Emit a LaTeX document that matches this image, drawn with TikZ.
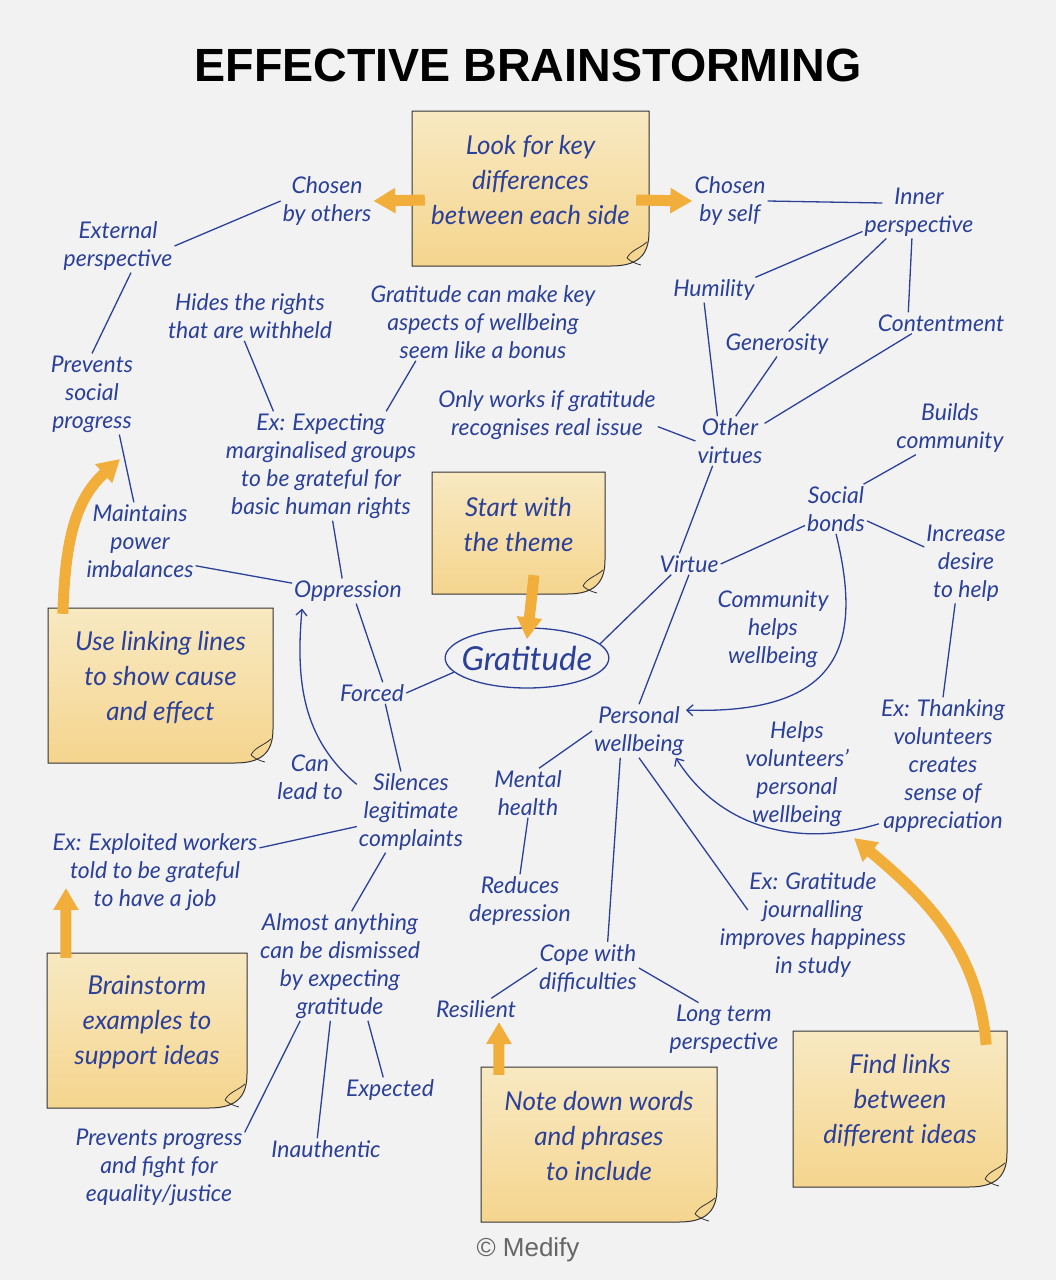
\documentclass[tikz,border=0pt]{standalone}
\usepackage{fontspec}
\setmainfont{Lato}
\newfontfamily\titlefont{Liberation Sans}
\usetikzlibrary{arrows.meta,shapes.geometric}

\definecolor{paper}{HTML}{F2F2F2}
\definecolor{ink}{HTML}{2B4099}
\definecolor{marker}{HTML}{F2AE3A}
\definecolor{notetop}{HTML}{F8E9C2}
\definecolor{notebottom}{HTML}{F5D58E}
\definecolor{noteline}{HTML}{333333}
\definecolor{credit}{HTML}{666666}

\tikzset{
  idea/.style={text=ink, align=center, inner sep=2pt, font=\itshape\fontsize{23}{28}\selectfont},
  link/.style={draw=ink, line width=1.3pt},
  leadsto/.style={link, -{Straight Barb[length=6pt,width=11pt]}},
  hint/.style={draw=marker, line width=11pt, -{Triangle[width=24pt,length=22pt]}},
  notebox/.style={inner sep=0pt},
  notetext/.style={text=ink, align=center, font=\itshape\fontsize{26}{35}\selectfont},
}

% sticky note: name, left, top, right, bottom, text
\newcommand{\stickynote}[6]{%
  \shade[top color=notetop, bottom color=notebottom, draw=noteline, line width=1pt]
    (#2,#3) -- (#4,#3) -- (#4,#5-34) .. controls (#4,#5-10) and (#4-12,#5) .. (#4-38,#5) -- (#2,#5) -- cycle;
  \draw[noteline, line width=0.8pt]
    (#4-22,#5-8) .. controls (#4-18,#5-16) and (#4-10,#5-17) .. (#4-2,#5-24)
    (#4-22,#5-8) .. controls (#4-18,#5-4) and (#4-12,#5-2) .. (#4-8,#5-1);
  \node[notebox, minimum width={#4-#2}, minimum height={#5-#3}] (#1) at ({(#2+#4)/2},{(#3+#5)/2}) {};
  \node[notetext] (#1-txt) at ([yshift=8pt]#1.center) {#6};
}

\begin{document}
\begin{tikzpicture}[x=1pt,y=-1pt]
\useasboundingbox[fill=paper] (0,0) rectangle (1056,1280);

\node[font=\titlefont\bfseries\fontsize{46.6}{50}\selectfont] (title) at (528,65) {EFFECTIVE BRAINSTORMING};

% sticky notes
\stickynote{look}{412}{111}{649}{266}{Look for key\\differences\\between each side}
\stickynote{theme}{432}{472}{605}{594}{Start with\\the theme}
\stickynote{linking}{48}{608}{273}{763}{Use linking lines\\to show cause\\and effect}
\stickynote{examples}{47}{953}{247}{1108}{Brainstorm\\examples to\\support ideas}
\stickynote{words}{481}{1067}{717}{1222}{Note down words\\and phrases\\to include}
\stickynote{links}{793}{1031}{1007}{1187}{Find links\\between\\different ideas}

% ideas
\node[idea] (others) at (327,201) {Chosen\\by others};
\node[idea] (self) at (730,201) {Chosen\\by self};
\node[idea] (inner) at (919,212) {Inner\\perspective};
\node[idea] (external) at (118,246) {External\\perspective};
\node[idea] (hides) at (250,316) {Hides the rights\\that are withheld};
\node[idea] (bonus) at (483,322) {Gratitude can make key\\aspects of wellbeing\\seem like a bonus};
\node[idea] (humility) at (714,290) {Humility};
\node[idea] (generosity) at (777,344) {Generosity};
\node[idea] (contentment) at (941,323) {Contentment};
\node[idea] (prevents) at (92,394) {Prevents\\social\\progress};
\node[idea] (onlyif) at (547,415) {Only works if gratitude\\recognises real issue};
\node[idea] (other) at (730,441) {Other\\virtues};
\node[idea] (builds) at (950,428) {Builds\\community};
\node[idea] (expecting) at (321,466) {Ex: Expecting\\marginalised groups\\to be grateful for\\basic human rights};
\node[idea] (maintains) at (140,541) {Maintains\\power\\imbalances};
\node[idea] (social) at (836,509) {Social\\bonds};
\node[idea] (desire) at (966,563) {Increase\\desire\\to help};
\node[idea] (virtue) at (689,564) {Virtue};
\node[idea] (oppression) at (348,591) {Oppression};
\node[idea] (community) at (773,629) {Community\\helps\\wellbeing};
\node[idea, draw=ink, line width=1.3pt, ellipse, inner xsep=-7.5pt, inner ysep=2pt,
      minimum width=163, minimum height=60, font=\itshape\fontsize{33}{38}\selectfont] (gratitude) at (527,658) {Gratitude};
\node[idea] (forced) at (372,693) {Forced};
\node[idea] (personal) at (639,731) {Personal\\wellbeing};
\node[idea] (thanking) at (943,766) {Ex: Thanking\\volunteers\\creates\\sense of\\appreciation};
\node[idea] (volunteers) at (797,774) {Helps\\volunteers’\\personal\\wellbeing};
\node[idea] (leadto) at (310,777) {Can\\lead to};
\node[idea] (silences) at (411,812) {Silences\\legitimate\\complaints};
\node[idea] (mental) at (528,793) {Mental\\health};
\node[idea] (workers) at (155,872) {Ex: Exploited workers\\told to be grateful\\to have a job};
\node[idea] (depression) at (520,901) {Reduces\\depression};
\node[idea] (journalling) at (813,925) {Ex: Gratitude\\journalling\\improves happiness\\in study};
\node[idea] (dismissed) at (340,966) {Almost anything\\can be dismissed\\by expecting\\gratitude};
\node[idea] (cope) at (588,968) {Cope with\\difficulties};
\node[idea] (resilient) at (476,1009) {Resilient};
\node[idea] (longterm) at (724,1029) {Long term\\perspective};
\node[idea] (expected) at (390,1090) {Expected};
\node[idea] (justice) at (159,1167) {Prevents progress\\and fight for\\equality/justice};
\node[idea] (inauthentic) at (326,1149) {Inauthentic};
\node[text=credit, font=\titlefont\fontsize{26}{30}\selectfont] (medify) at (528,1250) {© Medify};

% links
\draw[link] (others.west) -- (external.east);
\draw[link] (external.-64) -- (prevents.north);
\draw[link] (prevents.-56) -- (maintains.99);
\draw[link] (self.east) -- ([xshift=20pt,yshift=9pt]inner.west);
\draw[link] (inner.199) -- (humility.17);
\draw[link] (inner.-141) -- (generosity.47);
\draw[link] (inner.-105) -- (contentment.162);
\draw[link] (humility.-128) -- (other.117);
\draw[link] (generosity.south) -- (other.77);
\draw[link] (contentment.200) -- (other.27);
\draw[link] (onlyif.-6) -- (other.west);
\draw[link] (other.-125) -- (virtue.132);
\draw[link] (hides.-103) -- (expecting.131);
\draw[link] (bonus.210) -- (expecting.40);
\draw[link] (expecting.-78) -- (oppression.115);
\draw[link] (maintains.-24) -- (oppression.172);
\draw[link] (oppression.-57) -- (forced.45);
\draw[link] (forced.east) -- (gratitude.191);
\draw[link] (gratitude.11) -- (virtue.211);
\draw[link] (virtue.east) -- (social.208);
\draw[link] (social.42) -- (builds.218);
\draw[link] (social.-21) -- (desire.159);
\draw[link] (desire.-105) -- (thanking.north);
\draw[link] (virtue.south) -- (personal.north);
\draw[leadsto] (social.south) .. controls (862,640) and (845,715) .. (personal.24);
\draw[leadsto] (thanking.222) to[out=197,in=-58] (personal.-36);
\draw[link] (personal.west) -- (mental.66);
\draw[link] (mental.south) -- (depression.north);
\draw[link] (personal.-125) -- (cope.53);
\draw[link] (personal.south) -- ([xshift=30pt,yshift=15pt]journalling.west);
\draw[link] (cope.west) -- (resilient.35);
\draw[link] (cope.east) -- (longterm.134);
\draw[link] (forced.-39) -- (silences.104);
\draw[leadsto] (silences.153) to[out=140,in=-95] ([xshift=10pt,yshift=-5pt]oppression.south west);
\draw[link] (silences.195) -- (workers.13);
\draw[link] (silences.-122) -- (dismissed.78);
\draw[link] (dismissed.-126) -- (justice.22);
\draw[link] (dismissed.-100) -- (inauthentic.129);
\draw[link] (dismissed.-63) -- (expected.118);

% hints from the notes
\coordinate (progresshint) at (120,459);
\coordinate (workershint) at (66,888);
\coordinate (resilienthint) at (499,1022);
\coordinate (volunteershint) at (854,838);
\draw[hint] ([xshift=13pt,yshift=-11.5pt]look.west) -- (others.east);
\draw[hint] ([xshift=-13pt,yshift=-11.5pt]look.east) -- (self.west);
\draw[hint] ([xshift=15.5pt,yshift=19pt]theme.south) -- ([yshift=-12pt]gratitude.north);
\draw[hint] ([xshift=15pt,yshift=-6pt]linking.north west) to[out=88,in=222] (progresshint);
\draw[hint] ([xshift=19pt,yshift=-5pt]examples.north west) -- (workershint);
\draw[hint] ([xshift=18pt,yshift=-8pt]words.north west) -- (resilienthint);
\draw[hint] ([xshift=-21pt,yshift=-14pt]links.north east) to[out=95,in=-40] (volunteershint);
\end{tikzpicture}
\end{document}
